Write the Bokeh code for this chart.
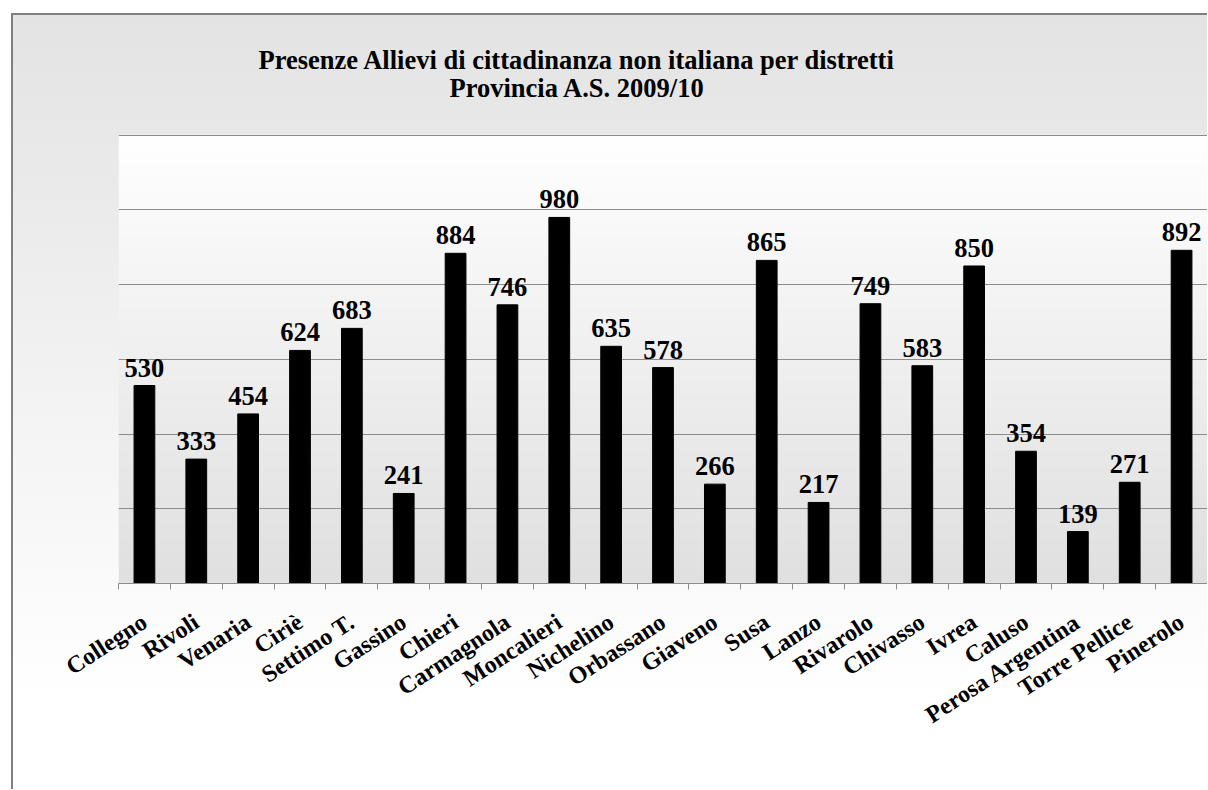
import numpy as np
from bokeh.plotting import figure
from bokeh.models import Range1d, FixedTicker, Grid, Title
from bokeh.core.properties import value
from bokeh.embed import file_html
from bokeh.resources import INLINE

# ---- data ----
categories = ["Collegno", "Rivoli", "Venaria", "Ciriè", "Settimo T.", "Gassino",
              "Chieri", "Carmagnola", "Moncalieri", "Nichelino", "Orbassano",
              "Giaveno", "Susa", "Lanzo", "Rivarolo", "Chivasso", "Ivrea",
              "Caluso", "Perosa Argentina", "Torre Pellice", "Pinerolo"]
values = [530, 333, 454, 624, 683, 241, 884, 746, 980, 635, 578,
          266, 865, 217, 749, 583, 850, 354, 139, 271, 892]
title_line1 = "Presenze Allievi di cittadinanza non italiana per distretti"
title_line2 = "Provincia A.S. 2009/10"
y_gridlines = [200, 400, 600, 800, 1000, 1200]

n = len(categories)
centers = [i + 0.5 for i in range(n)]
boundaries = list(range(n + 1))

FONT = "Liberation Serif"
GRID = "#8c8c8c"

W, H = 1196, 776
p = figure(width=W, height=H, output_backend="svg", toolbar_location=None,
           x_range=Range1d(0, n), y_range=Range1d(0, 1202),
           y_axis_location=None, title=None,
           min_border_left=107, min_border_top=121,
           min_border_bottom=206, min_border_right=0)
p.margin = (13, 0, 0, 11)
p.styles = {"background": "linear-gradient(to bottom, #e3e3e3 0px, #ffffff 690px)",
            "box-shadow": "inset 2px 2px 0 0 #808080"}
p.border_fill_color = None
p.background_fill_color = None
p.outline_line_color = None

# plot-area gradient (white at top -> light grey at bottom)
ny = 256
g = np.linspace(224, 255, ny).astype(np.uint8)
img = np.empty((ny, 1), dtype=np.uint32)
view = img.view(dtype=np.uint8).reshape((ny, 1, 4))
view[:, 0, 0] = g
view[:, 0, 1] = g
view[:, 0, 2] = g
view[:, 0, 3] = 255
p.image_rgba(image=[img], x=0, y=0, dw=n, dh=1202, level="image")

p.xgrid.visible = False
p.add_layout(Grid(dimension=1, ticker=FixedTicker(ticks=y_gridlines),
                  grid_line_color=GRID, grid_line_width=1))

p.vbar(x=centers, top=values, bottom=0, width=0.4, fill_color="black",
       line_color="black")

p.text(x=centers, y=values, text=[str(v) for v in values],
       text_font=value(FONT), text_font_style="bold", text_font_size="26.5px",
       text_align="center", text_baseline="alphabetic", y_offset=-18,
       text_color="black")

xa = p.xaxis[0]
xa.ticker = FixedTicker(ticks=centers, minor_ticks=boundaries)
xa.major_label_overrides = {c: name for c, name in zip(centers, categories)}
xa.major_tick_line_color = None
xa.minor_tick_line_color = GRID
xa.minor_tick_in = 0
xa.minor_tick_out = 6
xa.axis_line_color = GRID
xa.major_label_orientation = 0.576
xa.major_label_standoff = 30
xa.major_label_text_font = FONT
xa.major_label_text_font_style = "bold"
xa.major_label_text_font_size = "24px"
xa.major_label_text_color = "black"

t2 = Title(text=title_line2, align="left", offset=331, standoff=63,
           text_font=FONT, text_font_size="26.5px", text_font_style="bold",
           text_color="black")
t1 = Title(text=title_line1, align="left", offset=140, standoff=-70,
           text_font=FONT, text_font_size="26.5px", text_font_style="bold",
           text_color="black")
p.add_layout(t2, "above")
p.add_layout(t1, "above")

open("out.html", "w").write(file_html(p, INLINE))
